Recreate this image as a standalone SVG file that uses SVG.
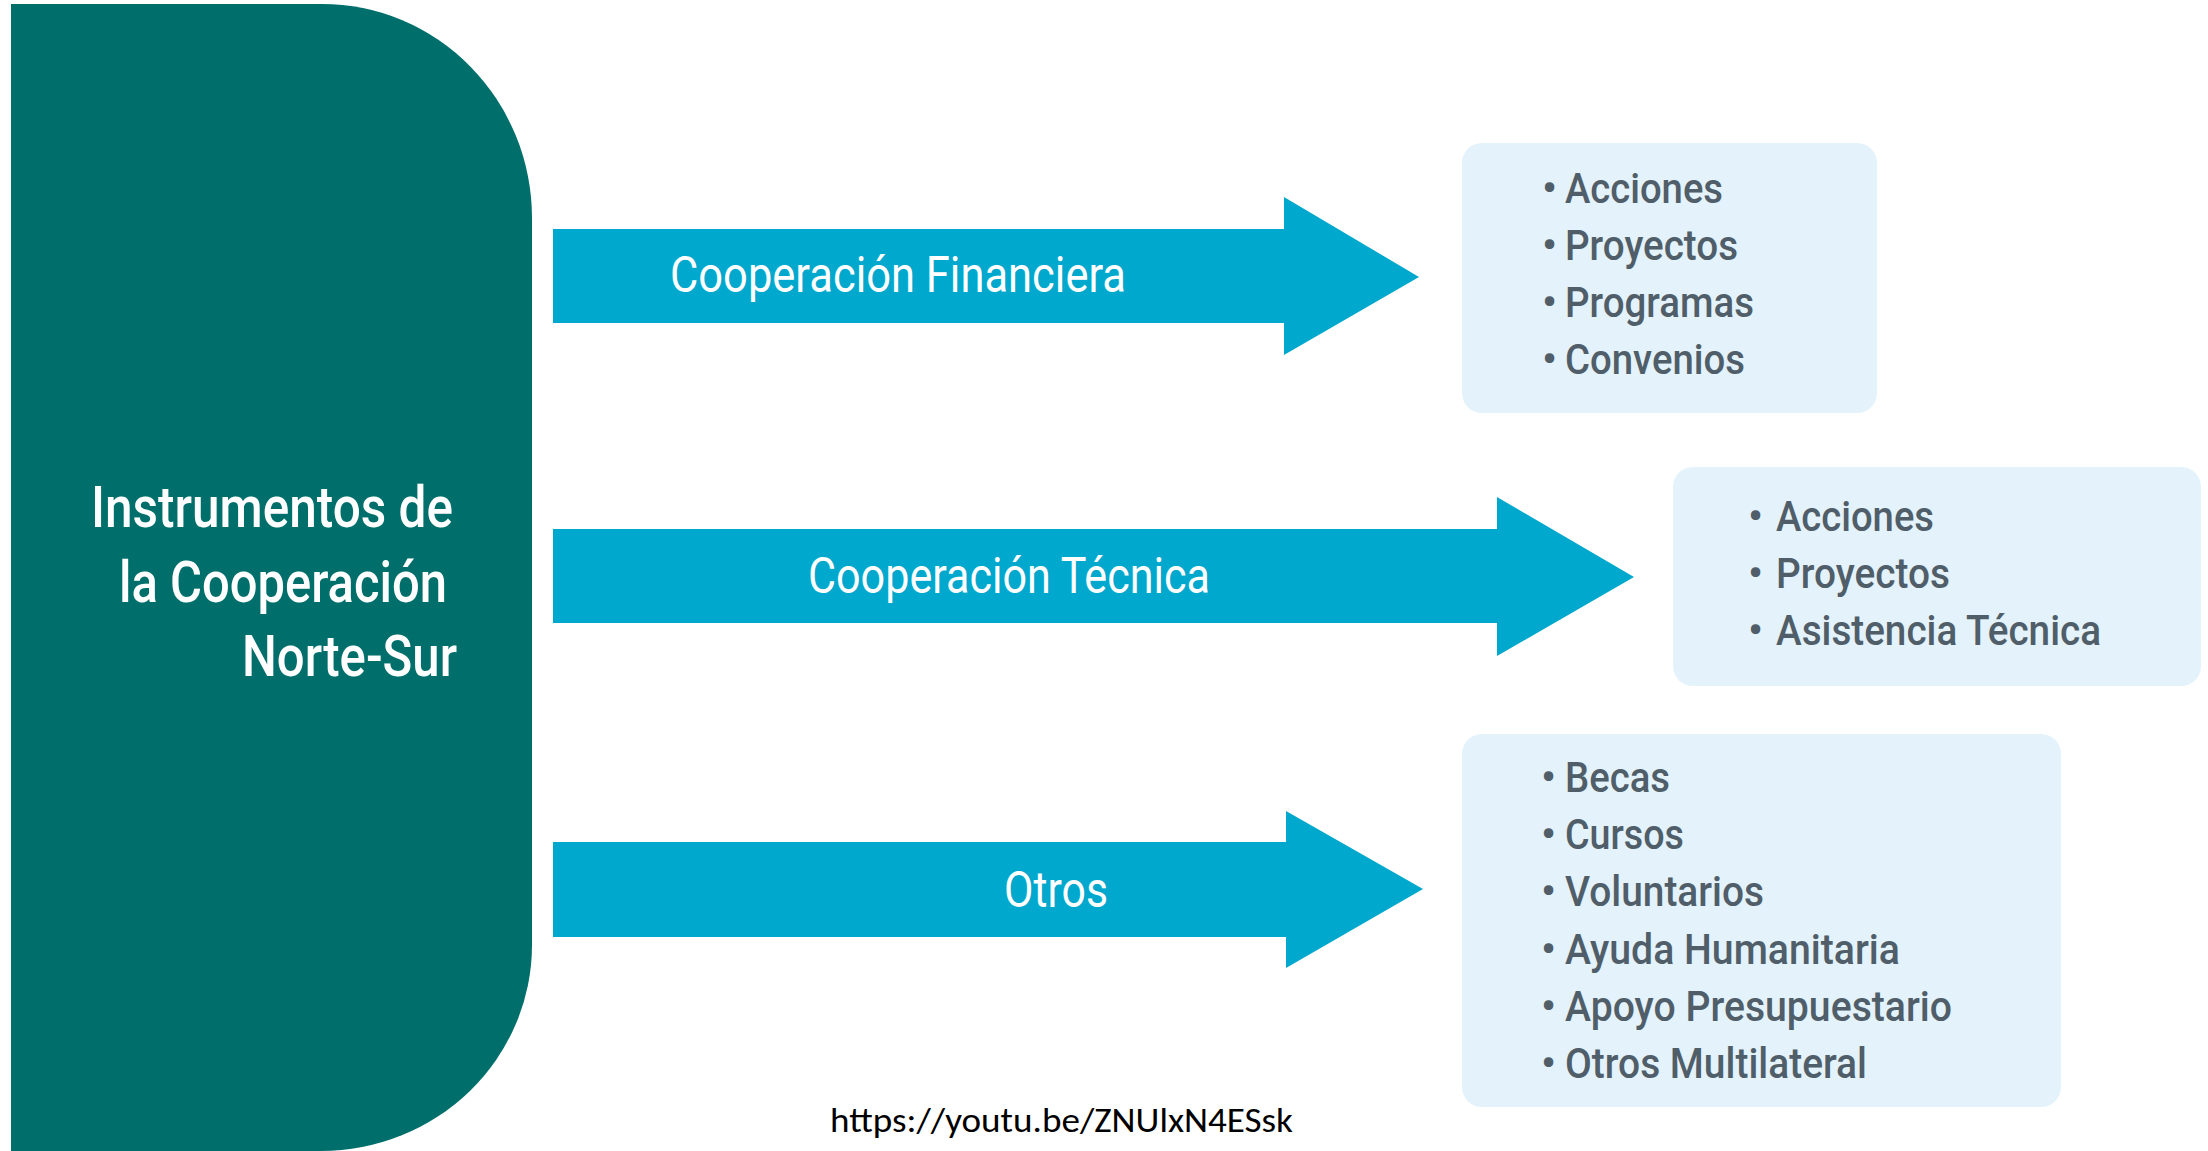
<svg xmlns="http://www.w3.org/2000/svg" width="2208" height="1151" viewBox="0 0 2208 1151">
<style>
.title{font-family:Roboto,"Liberation Sans",sans-serif;font-size:58px;font-weight:500;fill:#ffffff;}
.lbl{font-family:Roboto,"Liberation Sans",sans-serif;font-size:50px;fill:#ffffff;}
.item{font-family:Roboto,"Liberation Sans",sans-serif;font-size:43px;font-weight:500;fill:#505e69;}
.box{fill:#e3f2fb;}
.arrow{fill:#00a8cd;}
</style>
<rect width="2208" height="1151" fill="#ffffff"/>
<g id="main">
<path d="M11,4 H322 A210,214 0 0 1 532,218 V945 A211,206 0 0 1 321,1151 H11 Z" fill="#006f6b"/>
<text class="title" x="453" y="527" text-anchor="end" textLength="362" lengthAdjust="spacingAndGlyphs">Instrumentos de</text>
<text class="title" x="447" y="602" text-anchor="end" textLength="328" lengthAdjust="spacingAndGlyphs">la Cooperación</text>
<text class="title" x="457" y="676" text-anchor="end" textLength="215" lengthAdjust="spacingAndGlyphs">Norte-Sur</text>
</g>
<g id="connectors">
<g id="arrow-financiera">
<path class="arrow" d="M553,229 H1284 V197 L1419,277 L1284,355 V323 H553 Z"/>
<text class="lbl" x="670" y="292" textLength="456" lengthAdjust="spacingAndGlyphs">Cooperación Financiera</text>
</g>
<g id="arrow-tecnica">
<path class="arrow" d="M553,529 H1497 V497 L1634,577 L1497,656 V623 H553 Z"/>
<text class="lbl" x="808" y="593" textLength="402" lengthAdjust="spacingAndGlyphs">Cooperación Técnica</text>
</g>
<g id="arrow-otros">
<path class="arrow" d="M553,842 H1286 V811 L1423,889 L1286,968 V937 H553 Z"/>
<text class="lbl" x="1004" y="907" textLength="104" lengthAdjust="spacingAndGlyphs">Otros</text>
</g>
</g>
<g id="box-financiera">
<rect class="box" x="1462" y="143" width="415" height="270" rx="20"/>
<text class="item" x="1542" y="203">•</text><text class="item" x="1565" y="203" textLength="158" lengthAdjust="spacingAndGlyphs">Acciones</text>
<text class="item" x="1542" y="260">•</text><text class="item" x="1565" y="260" textLength="173" lengthAdjust="spacingAndGlyphs">Proyectos</text>
<text class="item" x="1542" y="317">•</text><text class="item" x="1565" y="317" textLength="189" lengthAdjust="spacingAndGlyphs">Programas</text>
<text class="item" x="1542" y="374">•</text><text class="item" x="1565" y="374" textLength="180" lengthAdjust="spacingAndGlyphs">Convenios</text>
</g>
<g id="box-tecnica">
<rect class="box" x="1673" y="467" width="528" height="219" rx="20"/>
<text class="item" x="1748" y="531">•</text><text class="item" x="1776" y="531" textLength="158" lengthAdjust="spacingAndGlyphs">Acciones</text>
<text class="item" x="1748" y="588">•</text><text class="item" x="1776" y="588" textLength="174" lengthAdjust="spacingAndGlyphs">Proyectos</text>
<text class="item" x="1748" y="645">•</text><text class="item" x="1776" y="645" textLength="325" lengthAdjust="spacingAndGlyphs">Asistencia Técnica</text>
</g>
<g id="box-otros">
<rect class="box" x="1462" y="734" width="599" height="373" rx="20"/>
<text class="item" x="1541" y="792">•</text><text class="item" x="1565" y="792" textLength="105" lengthAdjust="spacingAndGlyphs">Becas</text>
<text class="item" x="1541" y="849">•</text><text class="item" x="1565" y="849" textLength="119" lengthAdjust="spacingAndGlyphs">Cursos</text>
<text class="item" x="1541" y="906">•</text><text class="item" x="1565" y="906" textLength="199" lengthAdjust="spacingAndGlyphs">Voluntarios</text>
<text class="item" x="1541" y="964">•</text><text class="item" x="1565" y="964" textLength="335" lengthAdjust="spacingAndGlyphs">Ayuda Humanitaria</text>
<text class="item" x="1541" y="1021">•</text><text class="item" x="1565" y="1021" textLength="387" lengthAdjust="spacingAndGlyphs">Apoyo Presupuestario</text>
<text class="item" x="1541" y="1078">•</text><text class="item" x="1565" y="1078" textLength="302" lengthAdjust="spacingAndGlyphs">Otros Multilateral</text>
</g>
<g id="url">
<text x="830" y="1132" font-family="Carlito,'Liberation Sans',sans-serif" font-size="34" fill="#000000" textLength="463" lengthAdjust="spacingAndGlyphs">https://youtu.be/ZNUlxN4ESsk</text>
</g>
</svg>
